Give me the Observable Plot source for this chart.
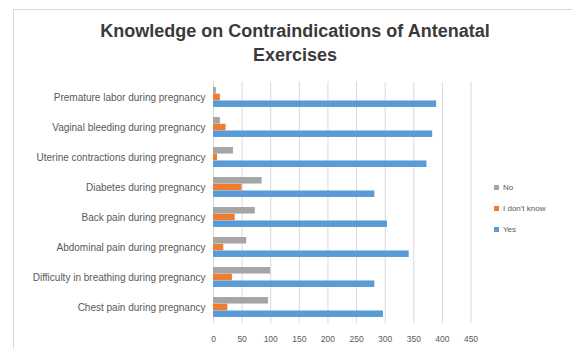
<!DOCTYPE html>
<html>
<head>
<meta charset="utf-8">
<script src="https://cdn.jsdelivr.net/npm/d3@7"></script>
<script src="https://cdn.jsdelivr.net/npm/@observablehq/plot@0.6"></script>
<style>
  body { margin: 0; background: #fff; font-family: "Liberation Sans", Arial, sans-serif; }
  #frame { position: absolute; left: 13px; top: 9px; width: 559px; height: 340px;
           border-left: 1px solid #d9d9d9; border-top: 1px solid #d9d9d9; }
  #title { position: absolute; left: 0; top: 20px; width: 590px; text-align: center;
           font-weight: bold; font-size: 18px; line-height: 23.5px; color: #3a3a3a; }
  #chart { position: absolute; left: 0; top: 70px; }
  #legend { position: absolute; left: 494px; top: 176.5px; font-size: 8px; color: #595959; }
  .item { height: 21px; display: flex; align-items: center; }
  .sw { width: 5px; height: 5px; margin-right: 4px; }
</style>
</head>
<body>
<div id="frame"></div>
<div id="title">Knowledge on Contraindications of Antenatal<br>Exercises</div>
<div id="chart"></div>
<div id="legend"></div>
<script>
// Survey answers per contraindication (number of respondents)
const categories = [
  "Premature labor during pregnancy",
  "Vaginal bleeding during pregnancy",
  "Uterine contractions during pregnancy",
  "Diabetes during pregnancy",
  "Back pain during pregnancy",
  "Abdominal pain during pregnancy",
  "Difficulty in breathing during pregnancy",
  "Chest pain during pregnancy"
];
const seriesNames = ["No", "I don't know", "Yes"];
const noValues = [5, 12, 35, 85, 73, 58, 100, 96];
const dontKnowValues = [12, 22, 7, 50, 38, 18, 33, 25];
const yesValues = [390, 383, 373, 282, 304, 342, 282, 297];
const xTicks = [0, 50, 100, 150, 200, 250, 300, 350, 400, 450];
const seriesColors = ["#a5a5a5", "#ed7d31", "#5b9bd5"];

const valuesBySeries = [noValues, dontKnowValues, yesValues];
const rows = [];
seriesNames.forEach((s, si) => {
  categories.forEach((c, ci) => rows.push({category: c, series: s, value: valuesBySeries[si][ci]}));
});

const width = 572, height = 279;
const marginTop = 11.6, marginBottom = 25.8, marginLeft = 213, marginRight = 101.5;
// Clustered bars: three bars per band with a gap of 1.5 bar widths
const step = (height - marginTop - marginBottom) / categories.length;
const bw = step / 4.5;

const barMarks = seriesNames.map((s, i) =>
  Plot.barX(rows.filter(d => d.series === s), {
    x: "value", y: "category", fill: seriesColors[i],
    insetTop: (0.75 + i) * bw, insetBottom: (2.75 - i) * bw
  })
);

const chart = Plot.plot({
  width, height, marginTop, marginBottom, marginLeft, marginRight,
  style: { fontFamily: "Liberation Sans, Arial, sans-serif", fontSize: "8.5px", color: "#595959", background: "transparent" },
  x: { domain: [0, 450], ticks: xTicks, tickSize: 0, tickPadding: 12, label: null },
  y: { domain: categories, padding: 0, tickSize: 0, tickPadding: 8, label: null },
  marks: [
    Plot.ruleX(xTicks, { stroke: "#d9d9d9" }),
    ...barMarks
  ]
});
// Category labels are set a little larger than the value ticks
chart.querySelectorAll("g[aria-label='y-axis'] text, g[aria-label='y-axis tick label'] text").forEach(t => t.style.fontSize = "10px");
document.getElementById("chart").appendChild(chart);

// Legend, listed top to bottom as the bars are stacked in each group
const legend = document.getElementById("legend");
seriesNames.forEach((s, i) => {
  const item = document.createElement("div");
  item.className = "item";
  const sw = document.createElement("span");
  sw.className = "sw";
  sw.style.background = seriesColors[i];
  item.appendChild(sw);
  item.appendChild(document.createTextNode(s));
  legend.appendChild(item);
});
</script>
</body>
</html>
